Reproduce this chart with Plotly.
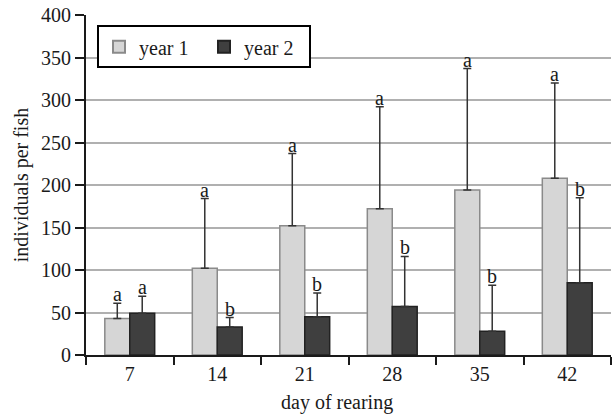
import plotly.graph_objects as go

days = ["7", "14", "21", "28", "35", "42"]
year1 = [43, 102, 152, 172, 194, 208]
year2 = [49, 33, 45, 57, 28, 85]
year1_top = [61, 184, 237, 292, 337, 320]
year2_top = [69, 44, 73, 116, 82, 185]
letters1 = ["a", "a", "a", "a", "a", "a"]
letters2 = ["a", "b", "b", "b", "b", "b"]
yticks = [0, 50, 100, 150, 200, 250, 300, 350, 400]

font = dict(family="Liberation Serif", size=20, color="#1a1a1a")

fig = go.Figure()
fig.add_trace(go.Bar(
    x=days, y=year1, name="year 1",
    marker=dict(color="#d6d6d6", line=dict(color="#8a8a8a", width=1.5)),
    error_y=dict(type="data", symmetric=False,
                 array=[t - v for t, v in zip(year1_top, year1)],
                 arrayminus=[0] * len(year1),
                 color="#333333", thickness=1.5, width=4),
))
fig.add_trace(go.Bar(
    x=days, y=year2, name="year 2",
    marker=dict(color="#3f3f3f", line=dict(color="#222222", width=1.5)),
    error_y=dict(type="data", symmetric=False,
                 array=[t - v for t, v in zip(year2_top, year2)],
                 arrayminus=[0] * len(year2),
                 color="#333333", thickness=1.5, width=4),
))

for i, (t, l) in enumerate(zip(year1_top, letters1)):
    fig.add_annotation(x=i, y=t, text=l, showarrow=False, xshift=-12.5,
                       yanchor="bottom", yshift=-4, font=font)
for i, (t, l) in enumerate(zip(year2_top, letters2)):
    fig.add_annotation(x=i, y=t, text=l, showarrow=False, xshift=12.5,
                       yanchor="bottom", yshift=-4, font=font)

fig.add_annotation(x=0.478, y=-0.141, xref="paper", yref="paper",
                   text="day of rearing", showarrow=False,
                   xanchor="center", yanchor="middle", font=font)

fig.update_layout(
    width=612, height=415,
    margin=dict(l=86, r=1, t=15, b=60),
    paper_bgcolor="white", plot_bgcolor="white",
    font=font,
    barmode="group", bargap=0.43, bargroupgap=0,
    showlegend=True,
    legend=dict(orientation="h", x=0.021, y=0.97, xanchor="left", yanchor="top",
                bordercolor="black", borderwidth=2, bgcolor="white",
                font=font, entrywidth=60, entrywidthmode="pixels",
                itemsizing="constant"),
    xaxis=dict(type="category", range=[-0.5, 5.5], tickson="boundaries",
               ticks="outside", ticklen=8,
               tickwidth=1.5, tickcolor="#1a1a1a", showline=True, linecolor="#1a1a1a",
               linewidth=2, showgrid=False, tickfont=font),
    yaxis=dict(range=[0, 400], tickvals=yticks, ticks="outside", ticklen=9,
               tickwidth=1.5, tickcolor="#1a1a1a", showline=True, linecolor="#1a1a1a",
               linewidth=2, showgrid=True, gridcolor="#b0b0b0", gridwidth=1.5,
               zeroline=False,
               title=dict(text="individuals per fish", font=font, standoff=7),
               tickfont=font),
)

fig.write_html("out.html", config={"displayModeBar": False},
               post_script="document.body.style.margin='0px';document.body.style.overflow='hidden';")
